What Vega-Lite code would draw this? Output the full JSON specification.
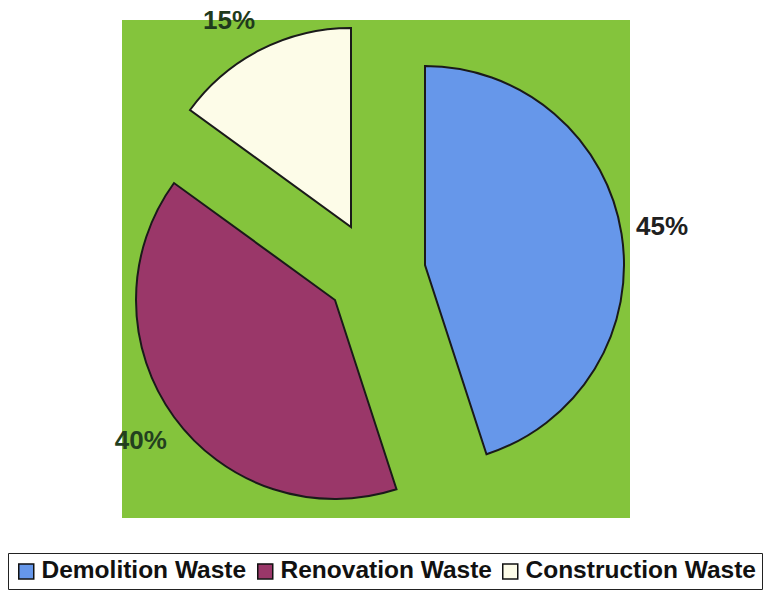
{
  "$schema": "https://vega.github.io/schema/vega-lite/v6.json",
  "width": 508,
  "height": 498,
  "autosize": {"type": "none"},
  "padding": {"left": 122, "top": 20, "right": 133, "bottom": 74},
  "background": "white",
  "view": {"fill": "#84c43c", "stroke": null},
  "config": {
    "view": {"fill": "#84c43c", "stroke": null},
    "font": "Liberation Sans"
  },
  "data": {
    "values": [
      {"category": "Demolition Waste", "value": 45, "label": "45%"},
      {"category": "Renovation Waste", "value": 40, "label": "40%"},
      {"category": "Construction Waste", "value": 15, "label": "15%"}
    ]
  },
  "encoding": {
    "theta": {"field": "value", "type": "quantitative", "stack": true},
    "order": {"field": "value", "type": "quantitative", "sort": "descending"},
    "color": {
      "field": "category",
      "type": "nominal",
      "sort": ["Demolition Waste", "Renovation Waste", "Construction Waste"],
      "scale": {
        "domain": ["Demolition Waste", "Renovation Waste", "Construction Waste"],
        "range": ["#6697ea", "#9a3769", "#fdfce8"]
      },
      "legend": {
        "title": null,
        "orient": "none",
        "legendX": -114,
        "legendY": 533,
        "direction": "horizontal",
        "symbolType": "square",
        "symbolSize": 225,
        "symbolStrokeColor": "#111111",
        "symbolStrokeWidth": 1.5,
        "labelFontSize": 24.5,
        "labelFont": "Liberation Sans",
        "labelFontWeight": "bold",
        "labelColor": "#111111",
        "labelLimit": 0,
        "labelOffset": 3,
        "columnPadding": 6,
        "padding": 6,
        "strokeColor": "#222222",
        "fillColor": "white"
      }
    }
  },
  "layer": [
    {
      "mark": {"type": "arc", "outerRadius": 199, "xOffset": 49, "yOffset": -4, "stroke": "#1a1a1a", "strokeWidth": 2},
      "encoding": {"opacity": {"condition": {"test": "datum.category === 'Demolition Waste'", "value": 1}, "value": 0}}
    },
    {
      "mark": {"type": "arc", "outerRadius": 199, "xOffset": -41, "yOffset": 31, "stroke": "#1a1a1a", "strokeWidth": 2},
      "encoding": {"opacity": {"condition": {"test": "datum.category === 'Renovation Waste'", "value": 1}, "value": 0}}
    },
    {
      "mark": {"type": "arc", "outerRadius": 199, "xOffset": -25, "yOffset": -42, "stroke": "#1a1a1a", "strokeWidth": 2},
      "encoding": {"opacity": {"condition": {"test": "datum.category === 'Construction Waste'", "value": 1}, "value": 0}}
    },
    {
      "mark": {"type": "text", "radius": 240, "xOffset": 49, "yOffset": -4, "fontSize": 26, "fontWeight": "bold", "font": "Liberation Sans"},
      "encoding": {
        "text": {"field": "label"},
        "color": {"value": "#202020"},
        "opacity": {"condition": {"test": "datum.category === 'Demolition Waste'", "value": 1}, "value": 0}
      }
    },
    {
      "mark": {"type": "text", "radius": 240, "xOffset": -41, "yOffset": 31, "fontSize": 26, "fontWeight": "bold", "font": "Liberation Sans"},
      "encoding": {
        "text": {"field": "label"},
        "color": {"value": "#23401f"},
        "opacity": {"condition": {"test": "datum.category === 'Renovation Waste'", "value": 1}, "value": 0}
      }
    },
    {
      "mark": {"type": "text", "radius": 240, "xOffset": -25, "yOffset": -42, "dx": -13, "dy": 8, "fontSize": 26, "fontWeight": "bold", "font": "Liberation Sans"},
      "encoding": {
        "text": {"field": "label"},
        "color": {"value": "#1f3a1c"},
        "opacity": {"condition": {"test": "datum.category === 'Construction Waste'", "value": 1}, "value": 0}
      }
    }
  ]
}
